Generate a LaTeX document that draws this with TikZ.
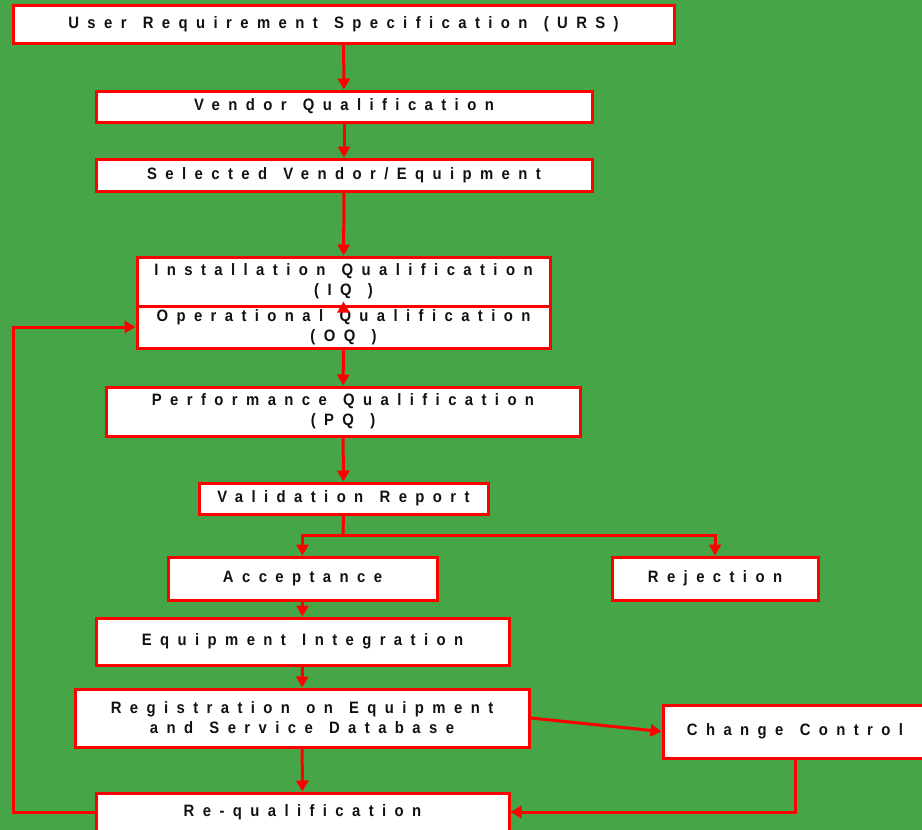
\documentclass[tikz,border=0pt]{standalone}
\usepackage{fontspec}
\usepackage{xcolor}
\usepackage{tikz}
\usetikzlibrary{arrows.meta, positioning, calc}

\newfontfamily\boxfont{Liberation Sans}[FakeStretch=0.9, LetterSpace=51, WordSpace=1.3]
\definecolor{bggreen}{HTML}{46A546}
\definecolor{boxred}{HTML}{FF0000}
\definecolor{boxtext}{HTML}{111111}

\begin{document}
\begin{tikzpicture}[x=1pt, y=-1pt, >={Triangle[length=11pt,width=12pt]},
  stage/.style={rectangle, draw=boxred, fill=white, line width=3pt, inner sep=0pt, align=center, text=boxtext,
    font={\boxfont\bfseries\fontsize{16.5}{20}\selectfont}},
  line/.style={draw=boxred, ->, line width=3pt}]

  \fill[bggreen] (0,0) rectangle (922,830);
  \useasboundingbox (0,0) rectangle (922,830);

  % main chain
  \node [stage, minimum width=661pt, minimum height=38pt] (urs) at (343.5,24) {User Requirement Specification (URS)};
  \node [stage, minimum width=496pt, minimum height=31pt] (vq) at (344,106.5) {Vendor Qualification};
  \node [stage, minimum width=496pt, minimum height=32pt] (sel) at (344,175) {Selected Vendor/Equipment};
  \node [stage, minimum width=413pt, minimum height=49pt] (iq) at (343.5,281.5) {Installation Qualification\\(IQ )};
  \node [stage, minimum width=413pt, minimum height=42pt] (oq) at (343.5,327) {Operational Qualification\\(OQ )};
  \node [stage, minimum width=474pt, minimum height=49pt] (pq) at (343,411.5) {Performance Qualification\\(PQ )};
  \node [stage, minimum width=289pt, minimum height=31pt] (vr) at (343.5,498.5) {Validation Report};

  % outcome
  \node [stage, minimum width=269pt, minimum height=43pt] (acc) at (302.5,578.5) {Acceptance};
  \node [stage, minimum width=206pt, minimum height=43pt] (rej) at (715,578.5) {Rejection};
  \node [stage, minimum width=413pt, minimum height=47pt] (ei) at (302.5,641.5) {Equipment Integration};
  \node [stage, minimum width=454pt, minimum height=58pt] (reg) at (302,718) {Registration on Equipment\\and Service Database};
  \node [stage, minimum width=264pt, minimum height=53pt] (cc) at (795,731.5) {Change Control};
  \node [stage, minimum width=413pt, minimum height=38pt] (rq) at (302.5,812) {Re-qualification};

  \coordinate (split) at (343,535);
  \coordinate (loop) at (13,812);

  \path [line] (urs) -- (vq);
  \path [line] (vq) -- (sel);
  \path [line] (sel) -- (iq);
  \path [line] ([yshift=-4pt]oq.north) -- ([yshift=6pt]iq.south);
  \path [line] (oq) -- (pq);
  \path [line] (pq) -- (vr);
  \draw [boxred, line width=3pt] (vr.south) -- (split);
  \path [line] (split) -| (acc.north);
  \path [line] (split) -| (rej.north);
  \path [line] (acc) -- (ei);
  \path [line] (ei) -- (reg);
  \path [line] (reg) -- (rq);
  \path [line] (reg.east) -- (cc.west);
  \path [line] (cc.south) |- (rq.east);
  \path [line] (rq.west) -- (loop) |- (oq.west);
\end{tikzpicture}
\end{document}
